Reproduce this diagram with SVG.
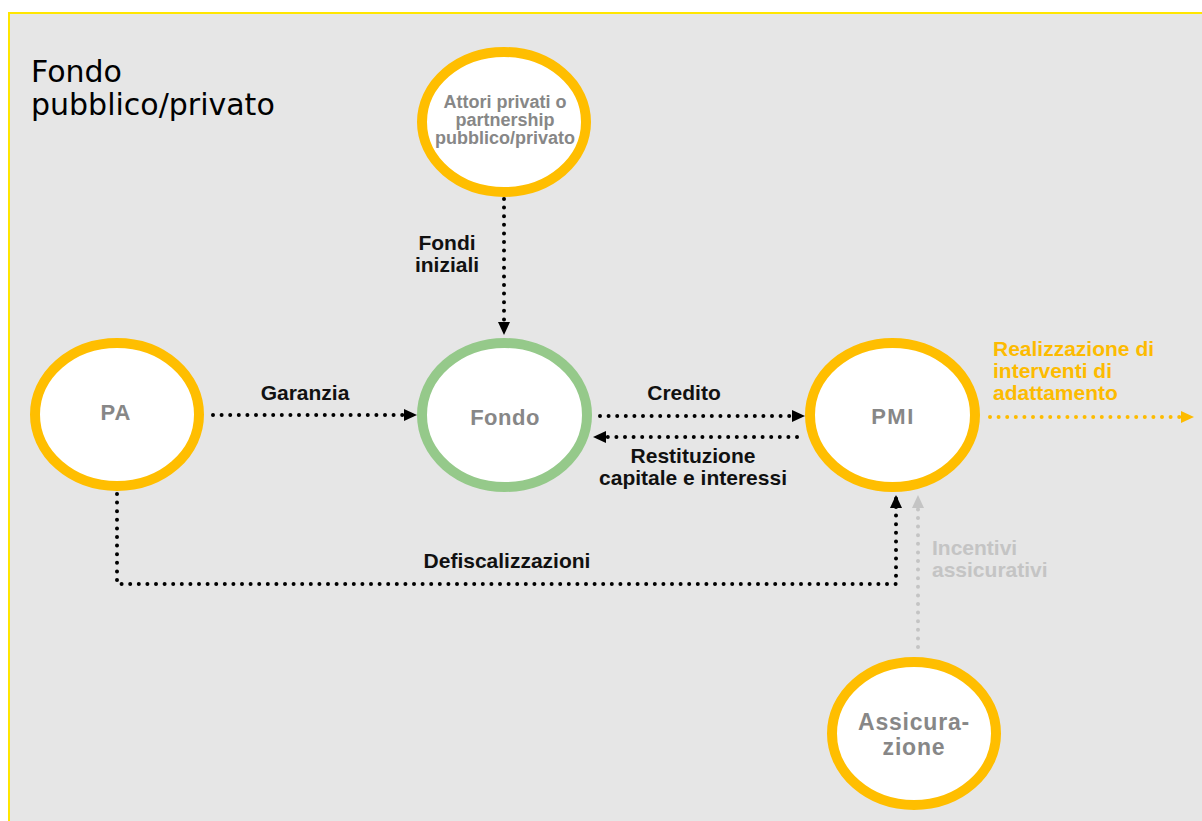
<svg xmlns="http://www.w3.org/2000/svg" width="1202" height="821" viewBox="0 0 1202 821">
<style>
.node{fill:#fff;stroke:#ffbe00;stroke-width:10}
.green{stroke:#95c98a}
.nl{font-family:"Liberation Sans",Arial,sans-serif;font-weight:bold;fill:#878787;text-anchor:middle}
.el{font-family:"Liberation Sans",Arial,sans-serif;font-weight:bold;font-size:21px;fill:#111;text-anchor:middle}
.ely{font-family:"Liberation Sans",Arial,sans-serif;font-weight:bold;font-size:21px;fill:#fdbb00}
.elg{font-family:"Liberation Sans",Arial,sans-serif;font-weight:bold;font-size:21px;fill:#c4c4c4}
.dot{fill:none;stroke:#000;stroke-width:4;stroke-linecap:round;stroke-dasharray:0 8.6}
.dotg{stroke:#c4c4c4}
.doty{stroke:#fdbb00}
</style>
<defs>
<marker id="ab" viewBox="0 0 13 12" refX="13" refY="6" markerWidth="13" markerHeight="12" markerUnits="userSpaceOnUse" orient="auto"><path d="M0,0 L13,6 L0,12 z" fill="#000"/></marker>
<marker id="ag" viewBox="0 0 13 12" refX="13" refY="6" markerWidth="13" markerHeight="12" markerUnits="userSpaceOnUse" orient="auto"><path d="M0,0 L13,6 L0,12 z" fill="#c4c4c4"/></marker>
<marker id="ay" viewBox="0 0 13 12" refX="13" refY="6" markerWidth="13" markerHeight="12" markerUnits="userSpaceOnUse" orient="auto"><path d="M0,0 L13,6 L0,12 z" fill="#fdbb00"/></marker>
</defs>
<rect x="0" y="0" width="1202" height="821" fill="#fff"/>
<rect x="9" y="13" width="1200" height="820" fill="#e6e6e6" stroke="#ffe600" stroke-width="2"/>
<text font-family="DejaVu Sans,sans-serif" font-size="30" fill="#000"><tspan x="31" y="82">Fondo</tspan><tspan x="31" y="115">pubblico/privato</tspan></text>

<g id="connectors">
<path class="dot" d="M504,199 V335" marker-end="url(#ab)"/>
<path class="dot" d="M213,415 H417" marker-end="url(#ab)"/>
<path class="dot" d="M600,416 H805" marker-end="url(#ab)"/>
<path class="dot" d="M797,437 H593" marker-end="url(#ab)"/>
<path class="dot" d="M117,494 V584 H896 V495" marker-end="url(#ab)"/>
<path class="dot dotg" d="M918,647 V495" marker-end="url(#ag)"/>
<path class="dot doty" d="M990,417 H1194" marker-end="url(#ay)"/>
<text class="el" x="447" y="250">Fondi</text>
<text class="el" x="447" y="272">iniziali</text>
<text class="el" x="305" y="400">Garanzia</text>
<text class="el" x="684" y="400">Credito</text>
<text class="el" x="693" y="463">Restituzione</text>
<text class="el" x="693" y="485">capitale e interessi</text>
<text class="el" x="507" y="568">Defiscalizzazioni</text>
<text class="ely" x="993" y="356">Realizzazione di</text>
<text class="ely" x="993" y="378">interventi di</text>
<text class="ely" x="993" y="400">adattamento</text>
<text class="elg" x="932" y="555">Incentivi</text>
<text class="elg" x="932" y="577">assicurativi</text>
</g>

<g id="attori">
<ellipse class="node" cx="504" cy="122" rx="82" ry="70"/>
<text class="nl" x="505" y="108" font-size="18">Attori privati o</text>
<text class="nl" x="505" y="126" font-size="18">partnership</text>
<text class="nl" x="505" y="144" font-size="18">pubblico/privato</text>
</g>
<g id="pa">
<ellipse class="node" cx="117" cy="414.5" rx="82" ry="71.5"/>
<text class="nl" x="116" y="420" font-size="22" letter-spacing="1">PA</text>
</g>
<g id="fondo">
<ellipse class="node green" cx="504.5" cy="415" rx="82.5" ry="72"/>
<text class="nl" x="505" y="425" font-size="22" letter-spacing="0.5">Fondo</text>
</g>
<g id="pmi">
<ellipse class="node" cx="892.5" cy="415" rx="82.5" ry="72"/>
<text class="nl" x="893" y="424" font-size="22" letter-spacing="1.5">PMI</text>
</g>
<g id="assicurazione">
<ellipse class="node" cx="914" cy="733.5" rx="82" ry="71.5"/>
<text class="nl" x="914" y="730" font-size="23" letter-spacing="0.8">Assicura-</text>
<text class="nl" x="914" y="755" font-size="23" letter-spacing="0.8">zione</text>
</g>
</svg>
